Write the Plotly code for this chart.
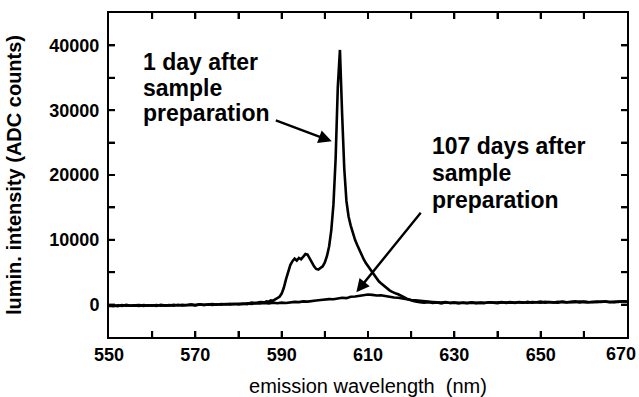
import numpy as np
import plotly.graph_objects as go

# Emission spectra, luminescence intensity in ADC counts vs wavelength in nm

# 1 day after sample preparation
wl_day1 = np.concatenate([
    np.arange(550, 586, 1.0),
    np.arange(586, 622.5, 0.5),
    np.arange(623, 671, 1.0),
])
counts_day1 = [
    # 550 - 585 nm
    -150, -250, -100, -200, -50, -180, -120, -220, -60, -160,
    -100, -200, -40, -150, -90, -180, -20, -130, -60, -10,
    -110, 30, -70, 20, -40, 60, -20, 80, 10, 120,
    40, 150, 60, 300, 250, 400,
    # 586 - 622 nm (0.5 nm)
    350, 500, 450, 650, 600, 800, 900, 1200, 1700, 2600,
    3900, 5200, 6100, 6700, 7100, 6800, 7200, 7000, 7500, 7800,
    7700, 7200, 6500, 5900, 5500, 5400, 5600, 5900, 6500, 7500,
    9000, 11500, 15500, 22500, 33500, 39300, 29500, 21000, 16000, 13600,
    12200, 11000, 10000, 9200, 8400, 7700, 7000, 6400, 5900, 5400,
    5000, 4500, 4000, 3600, 3300, 3000, 2700, 2400, 2200, 2000,
    1800, 1700, 1600, 1400, 1200, 1100, 900, 800, 650, 550,
    500, 400, 350,
    # 623 - 670 nm
    300, 380, 250, 320, 200, 350, 260, 300, 180, 320,
    240, 360, 200, 300, 260, 350, 280, 230, 360, 300,
    400, 250, 350, 300, 420, 290, 360, 450, 310, 400,
    350, 300, 450, 360, 410, 500, 350, 460, 400, 360,
    460, 400, 500, 360, 450, 420, 520, 450,
]

# 107 days after sample preparation
wl_day107 = np.arange(550, 671, 1.0)
counts_day107 = [
    # 550 - 585 nm
    -200, -120, -230, -90, -170, -140, -210, -80, -190, -110,
    -150, -60, -170, -90, -130, -30, -140, -50, -100, 0,
    -80, 40, -40, 10, 70, -20, 90, 30, 110, 60,
    140, 90, 180, 120, 220, 160,
    # 586 - 625 nm
    250, 180, 300, 220, 300, 250, 380, 420, 380, 500,
    460, 580, 620, 700, 780, 850, 820, 950, 1050, 1000,
    1200, 1250, 1350, 1450, 1550, 1500, 1400, 1450, 1300, 1250,
    1100, 1050, 900, 850, 700, 650, 560, 500, 450, 400,
    # 626 - 670 nm
    350, 300, 380, 260, 320, 280, 340, 230, 310, 270,
    330, 250, 360, 290, 320, 380, 270, 340, 300, 390,
    330, 280, 410, 350, 300, 420, 360, 330, 440, 380,
    350, 420, 380, 460, 400, 350, 430, 390, 470, 410,
    450, 380, 480, 430, 470,
]

# tick marks every 10 nm / 5000 counts, labels on every other one
x_ticks = [550, 560, 570, 580, 590, 600, 610, 620, 630, 640, 650, 660, 670]
x_tick_labels = ["550", "", "570", "", "590", "", "610", "", "630", "", "650", "", ""]
x_last_label = "670"
y_ticks = [0, 5000, 10000, 15000, 20000, 25000, 30000, 35000, 40000]
y_tick_labels = ["0", "", "10000", "", "20000", "", "30000", "", "40000"]

FONT = "Arial, Liberation Sans, Helvetica, sans-serif"
INK = "black"
TICK_PX = 6
PLOT_W, PLOT_H = 639 - 109 - 12, 397 - 13 - 60

fig = go.Figure()
fig.add_trace(go.Scatter(x=wl_day107, y=counts_day107, mode="lines",
                         line=dict(color=INK, width=2.6), showlegend=False))
fig.add_trace(go.Scatter(x=wl_day1, y=counts_day1, mode="lines",
                         line=dict(color=INK, width=2.6), showlegend=False))

tick_font = dict(family=FONT, size=18, color=INK, weight="bold")
axis_common = dict(
    showline=True, linecolor=INK, linewidth=2, mirror="allticks",
    ticks="inside", ticklen=TICK_PX, tickwidth=2, tickcolor=INK,
    showgrid=False, zeroline=False, automargin=False,
    tickfont=tick_font,
)

fig.update_xaxes(
    range=[550, 670], tickmode="array", tickvals=x_ticks, ticktext=x_tick_labels,
    title=dict(text="emission wavelength  (nm)",
               font=dict(family=FONT, size=20, color=INK), standoff=16),
    ticklabelstandoff=0,
    **axis_common,
)
fig.update_yaxes(
    range=[-5000, 45000], tickmode="array", tickvals=y_ticks, ticktext=y_tick_labels,
    title=dict(text="lumin. intensity (ADC counts)",
               font=dict(family=FONT, size=20, color=INK, weight="bold"), standoff=22),
    ticklabelstandoff=4,
    **axis_common,
)

# inward tick marks on all four sides of the frame
tick_line = dict(color=INK, width=2)
for tx in x_ticks[1:-1]:
    fig.add_shape(type="line", xref="x", yref="paper", x0=tx, x1=tx,
                  y0=0, y1=TICK_PX / PLOT_H, line=tick_line)
    fig.add_shape(type="line", xref="x", yref="paper", x0=tx, x1=tx,
                  y0=1, y1=1 - TICK_PX / PLOT_H, line=tick_line)
for ty in y_ticks:
    fig.add_shape(type="line", xref="paper", yref="y", x0=0, x1=TICK_PX / PLOT_W,
                  y0=ty, y1=ty, line=tick_line)
    fig.add_shape(type="line", xref="paper", yref="y", x0=1, x1=1 - TICK_PX / PLOT_W,
                  y0=ty, y1=ty, line=tick_line)

# the last wavelength label sits flush with the right edge of the figure
fig.add_annotation(x=x_ticks[-1], y=-0.0525, xref="x", yref="paper", text=x_last_label,
                   showarrow=False, xanchor="right", yanchor="middle",
                   xshift=11, font=tick_font)

label_font = dict(family=FONT, size=23, color=INK, weight="bold")

# text labels, one annotation per line
label_lines = [
    (557.3, 37500, "1 day after"),
    (557.3, 33350, "sample"),
    (557.3, 29500, "preparation"),
    (624.3, 24550, "107 days after"),
    (624.3, 20250, "sample"),
    (624.3, 16200, "preparation"),
]
for lx, ly, txt in label_lines:
    fig.add_annotation(x=lx, y=ly, xref="x", yref="y", text=txt, showarrow=False,
                       xanchor="left", yanchor="middle", font=label_font)

# arrows pointing from the labels to the curves
arrows = [
    dict(x=601.6, y=25200, ax=588.3, ay=28500),
    dict(x=607.3, y=1900, ax=622.5, ay=14400),
]
for a in arrows:
    fig.add_annotation(x=a["x"], y=a["y"], ax=a["ax"], ay=a["ay"],
                       xref="x", yref="y", axref="x", ayref="y",
                       text="", showarrow=True, arrowhead=2, arrowsize=1.1,
                       arrowwidth=2.4, arrowcolor=INK)

fig.update_layout(
    width=639, height=397,
    margin=dict(l=109, r=12, t=13, b=60),
    paper_bgcolor="white", plot_bgcolor="white",
    font=dict(family=FONT, color=INK),
)

fig.write_html("out.html")
